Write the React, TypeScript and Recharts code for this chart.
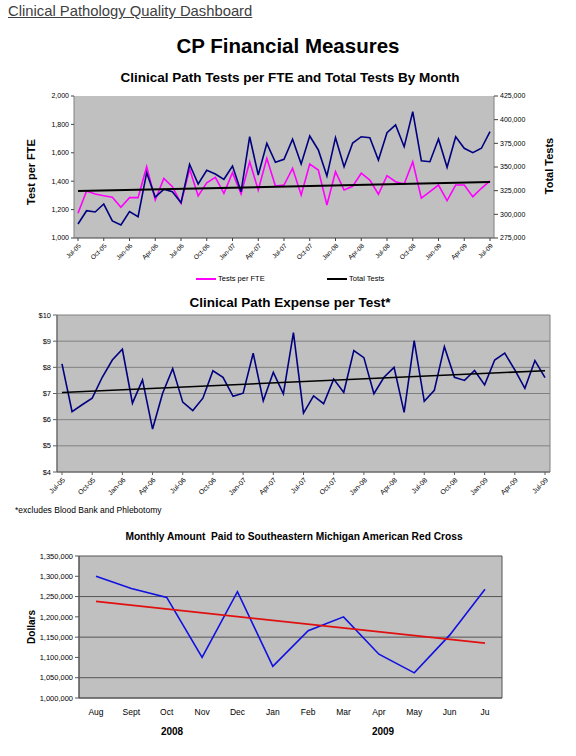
import React from 'react';
import { LineChart, Line, XAxis, YAxis, CartesianGrid, ReferenceLine } from 'recharts';

const months = [
  'Jul-05', 'Aug-05', 'Sep-05', 'Oct-05', 'Nov-05', 'Dec-05', 'Jan-06', 'Feb-06', 'Mar-06', 'Apr-06',
  'May-06', 'Jun-06', 'Jul-06', 'Aug-06', 'Sep-06', 'Oct-06', 'Nov-06', 'Dec-06', 'Jan-07', 'Feb-07',
  'Mar-07', 'Apr-07', 'May-07', 'Jun-07', 'Jul-07', 'Aug-07', 'Sep-07', 'Oct-07', 'Nov-07', 'Dec-07',
  'Jan-08', 'Feb-08', 'Mar-08', 'Apr-08', 'May-08', 'Jun-08', 'Jul-08', 'Aug-08', 'Sep-08', 'Oct-08',
  'Nov-08', 'Dec-08', 'Jan-09', 'Feb-09', 'Mar-09', 'Apr-09', 'May-09', 'Jun-09', 'Jul-09',
];

const testsPerFte = [
  1174, 1331, 1310, 1298, 1287, 1216, 1284, 1284, 1502, 1268,
  1420, 1361, 1244, 1486, 1296, 1389, 1427, 1315, 1460, 1310,
  1537, 1338, 1561, 1366, 1373, 1491, 1303, 1521, 1479, 1232,
  1467, 1338, 1364, 1456, 1408, 1308, 1439, 1396, 1380, 1537,
  1280, 1326, 1373, 1263, 1373, 1373, 1291, 1350, 1403,
];

const totalTests = [
  289800, 303800, 302500, 310900, 293000, 288700, 302800, 297500, 344000, 318300,
  326400, 323900, 312300, 352900, 332000, 346500, 342600, 337000, 351000, 323900,
  382000, 341500, 375000, 355000, 358100, 379300, 353200, 382700, 368000, 340500,
  381000, 350300, 375300, 382000, 381000, 357400, 386200, 394400, 371400, 408400,
  356600, 355600, 379600, 349700, 382000, 369800, 365100, 369800, 387300,
];

// trend of tests per FTE, first and last month
const fteTrend = [1331, 1394];

const expensePerTest = [
  8.13, 6.31, 6.57, 6.82, 7.62, 8.28, 8.69, 6.63, 7.52, 5.64,
  7.01, 7.95, 6.67, 6.35, 6.82, 7.87, 7.62, 6.89, 7.01, 8.54,
  6.72, 7.81, 6.99, 9.33, 6.25, 6.91, 6.61, 7.55, 7.04, 8.64,
  8.37, 6.99, 7.62, 8.0, 6.28, 9.02, 6.7, 7.12, 8.79, 7.62,
  7.5, 7.88, 7.33, 8.28, 8.54, 7.9, 7.2, 8.26, 7.61,
];

const expenseTrend = [7.04, 7.87];

const redCrossMonths = ['Aug', 'Sept', 'Oct', 'Nov', 'Dec', 'Jan', 'Feb', 'Mar', 'Apr', 'May', 'Jun', 'Ju'];
const redCrossPaid = [
  1300000, 1270000, 1248000, 1100000, 1262000, 1078000, 1166000, 1200000, 1108000, 1062000, 1155000, 1268000,
];
const redCrossTrend = [1238000, 1135000];

const fteTicks = [1000, 1200, 1400, 1600, 1800, 2000];
const totalTicks = [275000, 300000, 325000, 350000, 375000, 400000, 425000];
const expenseTicks = [4, 5, 6, 7, 8, 9, 10];
const redCrossTicks = [1000000, 1050000, 1100000, 1150000, 1200000, 1250000, 1300000, 1350000];

const FONT = 'Arial, "Liberation Sans", sans-serif';
const GRAY = '#c0c0c0';

const testsData = months.map((m, i) => ({ m, fte: testsPerFte[i], total: totalTests[i] }));
const expenseData = months.map((m, i) => ({ m, cost: expensePerTest[i] }));
const redCrossData = redCrossMonths.map((m, i) => ({ m, paid: redCrossPaid[i] }));

const comma = (v: number) => v.toLocaleString('en-US');

const borderLines = ({ offset }: any) => [offset.left, offset.left + offset.width];

const Text = ({ style, children }: { style: React.CSSProperties; children: React.ReactNode }) => (
  <div style={{ position: 'absolute', whiteSpace: 'nowrap', ...style }}>{children}</div>
);

const Rotated = ({ x, y, children, size = 11 }: { x: number; y: number; children: React.ReactNode; size?: number }) => (
  <div
    style={{
      position: 'absolute', left: x, top: y, fontSize: size, fontWeight: 'bold', whiteSpace: 'nowrap',
      transform: 'translate(-50%, -50%) rotate(-90deg)',
    }}
  >
    {children}
  </div>
);

export default function App() {
  const tickSmall = { fontSize: 7, fill: '#000', fontFamily: FONT };
  return (
    <div style={{ position: 'absolute', left: 0, top: 0, width: 576, height: 756, background: '#fff', fontFamily: FONT, color: '#000' }}>
      <Text style={{ left: 8, top: 3, fontSize: 14.8, color: '#404040', textDecoration: 'underline' }}>
        Clinical Pathology Quality Dashboard
      </Text>
      <Text style={{ left: 0, width: 576, top: 34, fontSize: 20.5, fontWeight: 'bold', textAlign: 'center' }}>
        CP Financial Measures
      </Text>

      {/* chart 1 */}
      <Text style={{ left: 2, width: 576, top: 70, fontSize: 13.5, fontWeight: 'bold', textAlign: 'center' }}>
        Clinical Path Tests per FTE and Total Tests By Month
      </Text>
      <Rotated x={31} y={172}>Test per FTE</Rotated>
      <Rotated x={549} y={166}>Total Tests</Rotated>
      <div style={{ position: 'absolute', left: 0, top: 90 }}>
        <LineChart width={576} height={188} data={testsData} margin={{ top: 6, right: 0, bottom: 0, left: 0 }}>
          <CartesianGrid yAxisId="left" fill={GRAY} horizontal={false} vertical={false} />
          <XAxis
            dataKey="m" interval={2} height={40} padding={{ left: 4, right: 4 }}
            tick={{ ...tickSmall, fontSize: 6.5 }} angle={-45} textAnchor="end" tickSize={3}
            axisLine={{ stroke: '#404040' }} tickLine={{ stroke: '#404040' }}
          />
          <YAxis
            yAxisId="left" width={74} domain={[1000, 2000]} ticks={fteTicks} tickFormatter={comma}
            tick={tickSmall} tickSize={3} axisLine={{ stroke: '#808080' }} tickLine={{ stroke: '#404040' }}
          />
          <YAxis
            yAxisId="right" orientation="right" width={82} domain={[275000, 425000]} ticks={totalTicks}
            tickFormatter={comma} tick={tickSmall} tickSize={4} axisLine={{ stroke: '#808080' }} tickLine={{ stroke: '#404040' }}
          />
          <Line yAxisId="left" dataKey="fte" stroke="#ff00ff" strokeWidth={1.6} dot={false} isAnimationActive={false} />
          <Line yAxisId="right" dataKey="total" stroke="#000080" strokeWidth={1.6} dot={false} isAnimationActive={false} />
          <ReferenceLine
            yAxisId="left" ifOverflow="visible"
            segment={[{ x: months[0], y: fteTrend[0] }, { x: months[months.length - 1], y: fteTrend[1] }]}
            stroke="#000" strokeWidth={2}
          />
        </LineChart>
      </div>
      <div style={{ position: 'absolute', left: 196, top: 278, width: 20, borderTop: '2px solid #ff00ff' }} />
      <Text style={{ left: 218, top: 274, fontSize: 7.5 }}>Tests per FTE</Text>
      <div style={{ position: 'absolute', left: 327, top: 278, width: 20, borderTop: '2px solid #000' }} />
      <Text style={{ left: 349, top: 274, fontSize: 7.5 }}>Total Tests</Text>

      {/* chart 2 */}
      <Text style={{ left: 2, width: 576, top: 295, fontSize: 13.5, fontWeight: 'bold', textAlign: 'center' }}>
        Clinical Path Expense per Test*
      </Text>
      <div style={{ position: 'absolute', left: 0, top: 305 }}>
        <LineChart width={576} height={207} data={expenseData} margin={{ top: 10, right: 26, bottom: 0, left: 0 }}>
          <CartesianGrid fill={GRAY} stroke="#808080" verticalCoordinatesGenerator={borderLines} />
          <XAxis
            dataKey="m" interval={2} height={40} padding={{ left: 5, right: 5 }}
            tick={tickSmall} angle={-45} textAnchor="end" tickSize={3}
            axisLine={{ stroke: '#606060' }} tickLine={{ stroke: '#606060' }}
          />
          <YAxis
            width={57} domain={[4, 10]} ticks={expenseTicks} tickFormatter={(v: number) => `$${v}`}
            tick={{ ...tickSmall, fontSize: 7.5 }} tickSize={4} axisLine={{ stroke: '#606060' }} tickLine={{ stroke: '#606060' }}
          />
          <Line dataKey="cost" stroke="#000080" strokeWidth={1.6} dot={false} isAnimationActive={false} />
          <ReferenceLine
            ifOverflow="visible"
            segment={[{ x: months[0], y: expenseTrend[0] }, { x: months[months.length - 1], y: expenseTrend[1] }]}
            stroke="#000" strokeWidth={1.6}
          />
        </LineChart>
      </div>
      <Text style={{ left: 15, top: 505, fontSize: 8.5 }}>*excludes Blood Bank and Phlebotomy</Text>

      {/* chart 3 */}
      <Text style={{ left: 6, width: 576, top: 531, fontSize: 10.2, fontWeight: 'bold', textAlign: 'center' }}>
        Monthly Amount&nbsp; Paid to Southeastern Michigan American Red Cross
      </Text>
      <Rotated x={31} y={627} size={10}>Dollars</Rotated>
      <div style={{ position: 'absolute', left: 0, top: 546 }}>
        <LineChart width={576} height={182} data={redCrossData} margin={{ top: 10, right: 74, bottom: 0, left: 0 }}>
          <CartesianGrid fill={GRAY} stroke="#555" verticalCoordinatesGenerator={borderLines} />
          <XAxis
            dataKey="m" height={30} padding={{ left: 17, right: 17 }} tick={{ ...tickSmall, fontSize: 8.5 }}
            tickLine={false} tickMargin={5} axisLine={{ stroke: '#555' }}
          />
          <YAxis
            width={79} domain={[1000000, 1350000]} ticks={redCrossTicks} tickFormatter={comma}
            tick={{ ...tickSmall, fontSize: 7.5 }} tickSize={4} axisLine={{ stroke: '#555' }} tickLine={{ stroke: '#555' }}
          />
          <Line dataKey="paid" stroke="#1010e0" strokeWidth={1.6} dot={false} isAnimationActive={false} />
          <ReferenceLine
            ifOverflow="visible"
            segment={[
              { x: redCrossMonths[0], y: redCrossTrend[0] },
              { x: redCrossMonths[redCrossMonths.length - 1], y: redCrossTrend[1] },
            ]}
            stroke="#e01010" strokeWidth={1.8}
          />
        </LineChart>
      </div>
      <Text style={{ left: 172, top: 726, fontSize: 10, fontWeight: 'bold', transform: 'translateX(-50%)' }}>2008</Text>
      <Text style={{ left: 383, top: 726, fontSize: 10, fontWeight: 'bold', transform: 'translateX(-50%)' }}>2009</Text>
    </div>
  );
}
